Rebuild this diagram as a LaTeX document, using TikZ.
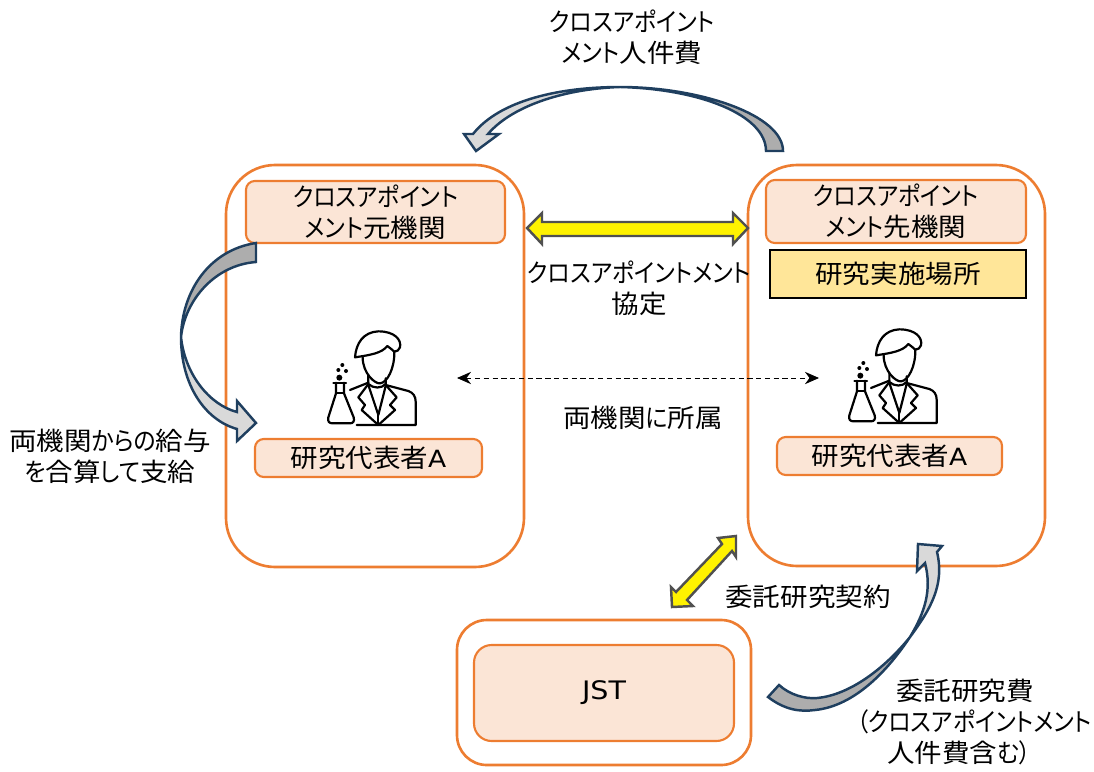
\documentclass[tikz,border=0pt]{standalone}
\usepackage{fontspec}
\setmainfont[RawFeature=+palt,FakeStretch=1.08]{Noto Sans CJK JP}
\newfontfamily\kanafont[RawFeature=+palt,FakeStretch=0.90]{Noto Sans CJK JP}
\newfontfamily\latinfont[FakeStretch=1.12]{DejaVu Sans}
\newcommand{\kn}[1]{{\kanafont #1}}
\newcommand{\lt}[2]{{\latinfont\fontsize{#1}{17.6}\selectfont #2}}
\usetikzlibrary{arrows.meta}

\definecolor{boxline}{HTML}{ED7D31}
\definecolor{boxtint}{HTML}{FBE5D6}
\definecolor{placefill}{HTML}{FFE699}
\definecolor{bendline}{HTML}{1F3F5F}
\definecolor{benddark}{HTML}{ADADAD}
\definecolor{bendlight}{HTML}{D9D9D9}
\definecolor{yellowline}{HTML}{505050}

\tikzset{
   label/.style={inner sep=0pt, align=center, font=\fontsize{14.5}{17.6}\selectfont, text=black},
   groupbox/.style={draw=boxline, line width=1.5pt, rounded corners=28pt},
   tintbox/.style={label, draw=boxline, fill=boxtint, line width=1.2pt, rounded corners=5pt},
   bendarrow/.style={draw=bendline, line width=1.4pt, line join=miter},
   yellowarrow/.style={draw=yellowline, fill=yellow, line width=1.4pt},
   scientist/.pic={
      \begin{scope}[scale=1/3, line width=1.25pt, line join=round, line cap=round]
      \draw (165,142) .. controls (168,100) and (190,66) .. (235,64) .. controls (285,64) and (305,90) .. (300,112) .. controls (298,120) and (290,125) .. (283,125) .. controls (275,118) and (268,112) .. (262,108) .. controls (245,130) and (210,135) .. (165,142) -- cycle;
      \draw (188,142) .. controls (188,190) and (225,222) .. (240,220) .. controls (262,218) and (284,175) .. (283,125);
      \draw (205,195) -- (205,222) .. controls (220,236) and (245,236) .. (257,222) -- (257,205);
      \draw (205,218) -- (150,240);
      \draw (257,225) -- (325,243) .. controls (340,248) and (347,260) .. (347,275) -- (347,345) -- (170,345);
      \draw (205,222) -- (175,262) -- (195,285) -- (185,300) -- (235,345) -- (285,300) -- (270,285) -- (290,262) -- (257,225);
      \draw (205,225) -- (235,315) -- (257,228);
      \draw (235,315) -- (235,345);
      \draw (100,218) -- (138,218);
      \draw (108,218) -- (108,250) -- (85,322) .. controls (82,335) and (88,340) .. (98,340) -- (150,340) .. controls (160,340) and (164,333) .. (161,322) -- (132,250) -- (132,218);
      \draw (108,250) -- (132,250);
      \fill (118,203) circle (9);
      \fill (115,180) circle (6);
      \fill (138,183) circle (6);
      \fill (127,165) circle (6);
      \end{scope}
   }
}

\begin{document}
\begin{tikzpicture}[x=0.02cm, y=-0.02cm]

   \useasboundingbox (0,0) rectangle (1094,771);

   \draw[groupbox] (226,165) rectangle (524,567);
   \draw[groupbox] (748,165) rectangle (1045,566);
   \draw[groupbox, rounded corners=17pt] (457,620) rectangle (751,765);

   \node[tintbox, minimum width=259*0.02cm, minimum height=62*0.02cm] (motokikan) at (375.5,212) {\kn{クロスアポイント}\\\kn{メント}元機関};
   \node[tintbox, minimum width=260*0.02cm, minimum height=63*0.02cm] (sakikikan) at (896,211.5) {\kn{クロスアポイント}\\\kn{メント}先機関};
   \node[label, draw=black, fill=placefill, line width=1pt, minimum width=256*0.02cm, minimum height=48*0.02cm] (basho) at (898,274) {研究実施場所};
   \node[tintbox, minimum width=227*0.02cm, minimum height=38*0.02cm] (daihyomoto) at (368.5,458) {研究代表者\lt{13.5}{A}};
   \node[tintbox, minimum width=225*0.02cm, minimum height=38*0.02cm] (daihyosaki) at (889.5,456) {研究代表者\lt{13.5}{A}};
   \node[tintbox, rounded corners=10pt, minimum width=260*0.02cm, minimum height=96*0.02cm] (jst) at (604,693) {\raisebox{-1.5pt}{\lt{14.5}{JST}}};

   \pic at (300,310) {scientist};
   \pic at (821,308) {scientist};

   \draw[benddark, fill=benddark] (783,151) .. controls (783,115) and (700,87) .. (620,87) .. controls (700,89) and (766,115) .. (766,151) -- cycle;
   \draw[bendlight, fill=bendlight] (620,87) .. controls (560,87) and (500,100) .. (473,134) -- (464,134) -- (476,151) -- (499,134) -- (488,134) .. controls (510,108) and (560,89) .. (620,87) -- cycle;
   \draw[bendarrow] (783,151) .. controls (783,115) and (700,87) .. (620,87) .. controls (560,87) and (500,100) .. (473,134) -- (464,134) -- (476,151) -- (499,134) -- (488,134) .. controls (510,108) and (560,89) .. (620,87) .. controls (700,89) and (766,115) .. (766,151) -- cycle;

   \draw[benddark, fill=benddark] (256,243) .. controls (210,250) and (182,290) .. (181,337) .. controls (185,300) and (215,265) .. (256,262) -- cycle;
   \draw[bendlight, fill=bendlight] (181,337) .. controls (181,385) and (205,420) .. (237,429) -- (237,441) -- (256,423) -- (237,401) -- (237,412) .. controls (210,405) and (185,375) .. (181,337) -- cycle;
   \draw[bendarrow] (256,243) .. controls (210,250) and (182,290) .. (181,337) .. controls (181,385) and (205,420) .. (237,429) -- (237,441) -- (256,423) -- (237,401) -- (237,412) .. controls (210,405) and (185,375) .. (181,337) .. controls (185,300) and (215,265) .. (256,262) -- cycle;

   \draw[benddark, fill=benddark] (768,697) .. controls (785,710) and (800,712) .. (815,710) .. controls (855,706) and (888,670) .. (910,637) .. controls (885,668) and (850,695) .. (817,698) .. controls (805,699) and (790,695) .. (779,685) -- cycle;
   \draw[bendlight, fill=bendlight] (910,637) .. controls (930,610) and (945,585) .. (937,552) -- (942,546) -- (918,544) -- (917,571) -- (925,563) .. controls (932,590) and (925,612) .. (910,637) -- cycle;
   \draw[bendarrow] (768,697) .. controls (785,710) and (800,712) .. (815,710) .. controls (855,706) and (888,670) .. (910,637) .. controls (930,610) and (945,585) .. (937,552) -- (942,546) -- (918,544) -- (917,571) -- (925,563) .. controls (932,590) and (925,612) .. (910,637) .. controls (885,668) and (850,695) .. (817,698) .. controls (805,699) and (790,695) .. (779,685) -- cycle;

   \draw[yellowarrow] (527,228) -- (542,213) -- (542,222) -- (733,222) -- (733,213) -- (748,228) -- (733,244) -- (733,236) -- (542,236) -- (542,244) -- cycle;
   \draw[yellowarrow] (736,536) -- (736,557) -- (732,551) -- (687,600) -- (693,606) -- (672,607) -- (671,587) -- (676,592) -- (722,544) -- (718,538) -- cycle;

   \coordinate (shozokul) at (457,378);
   \coordinate (shozokur) at (819,378);
   \draw[{Stealth[length=8pt,width=7pt]}-{Stealth[length=8pt,width=7pt]}, densely dashed, line width=0.5pt] (shozokul) -- (shozokur);

   \node[label] (jinkenhi) at (632,37.5) {\kn{クロスアポイント}\\\kn{メント}人件費};
   \node[label] (kyotei) at (639,288) {\kn{クロスアポイントメント}\\協定};
   \node[label] (shozoku) at (643,418) {両機関\kn{に}所属};
   \node[label] (kyuyo) at (110,456.5) {両機関\kn{からの}給与\\\kn{を}合算\kn{して}支給};
   \node[label] (keiyaku) at (808,597) {委託研究契約};
   \node[label] (kenkyuhi) at (965,691) {委託研究費};
   \node[label] (kenkyuhiaida) at (974,722) {\kn{（クロスアポイントメント}};
   \node[label] (kenkyuhishita) at (959,753) {人件費含\kn{む）}};

\end{tikzpicture}
\end{document}
